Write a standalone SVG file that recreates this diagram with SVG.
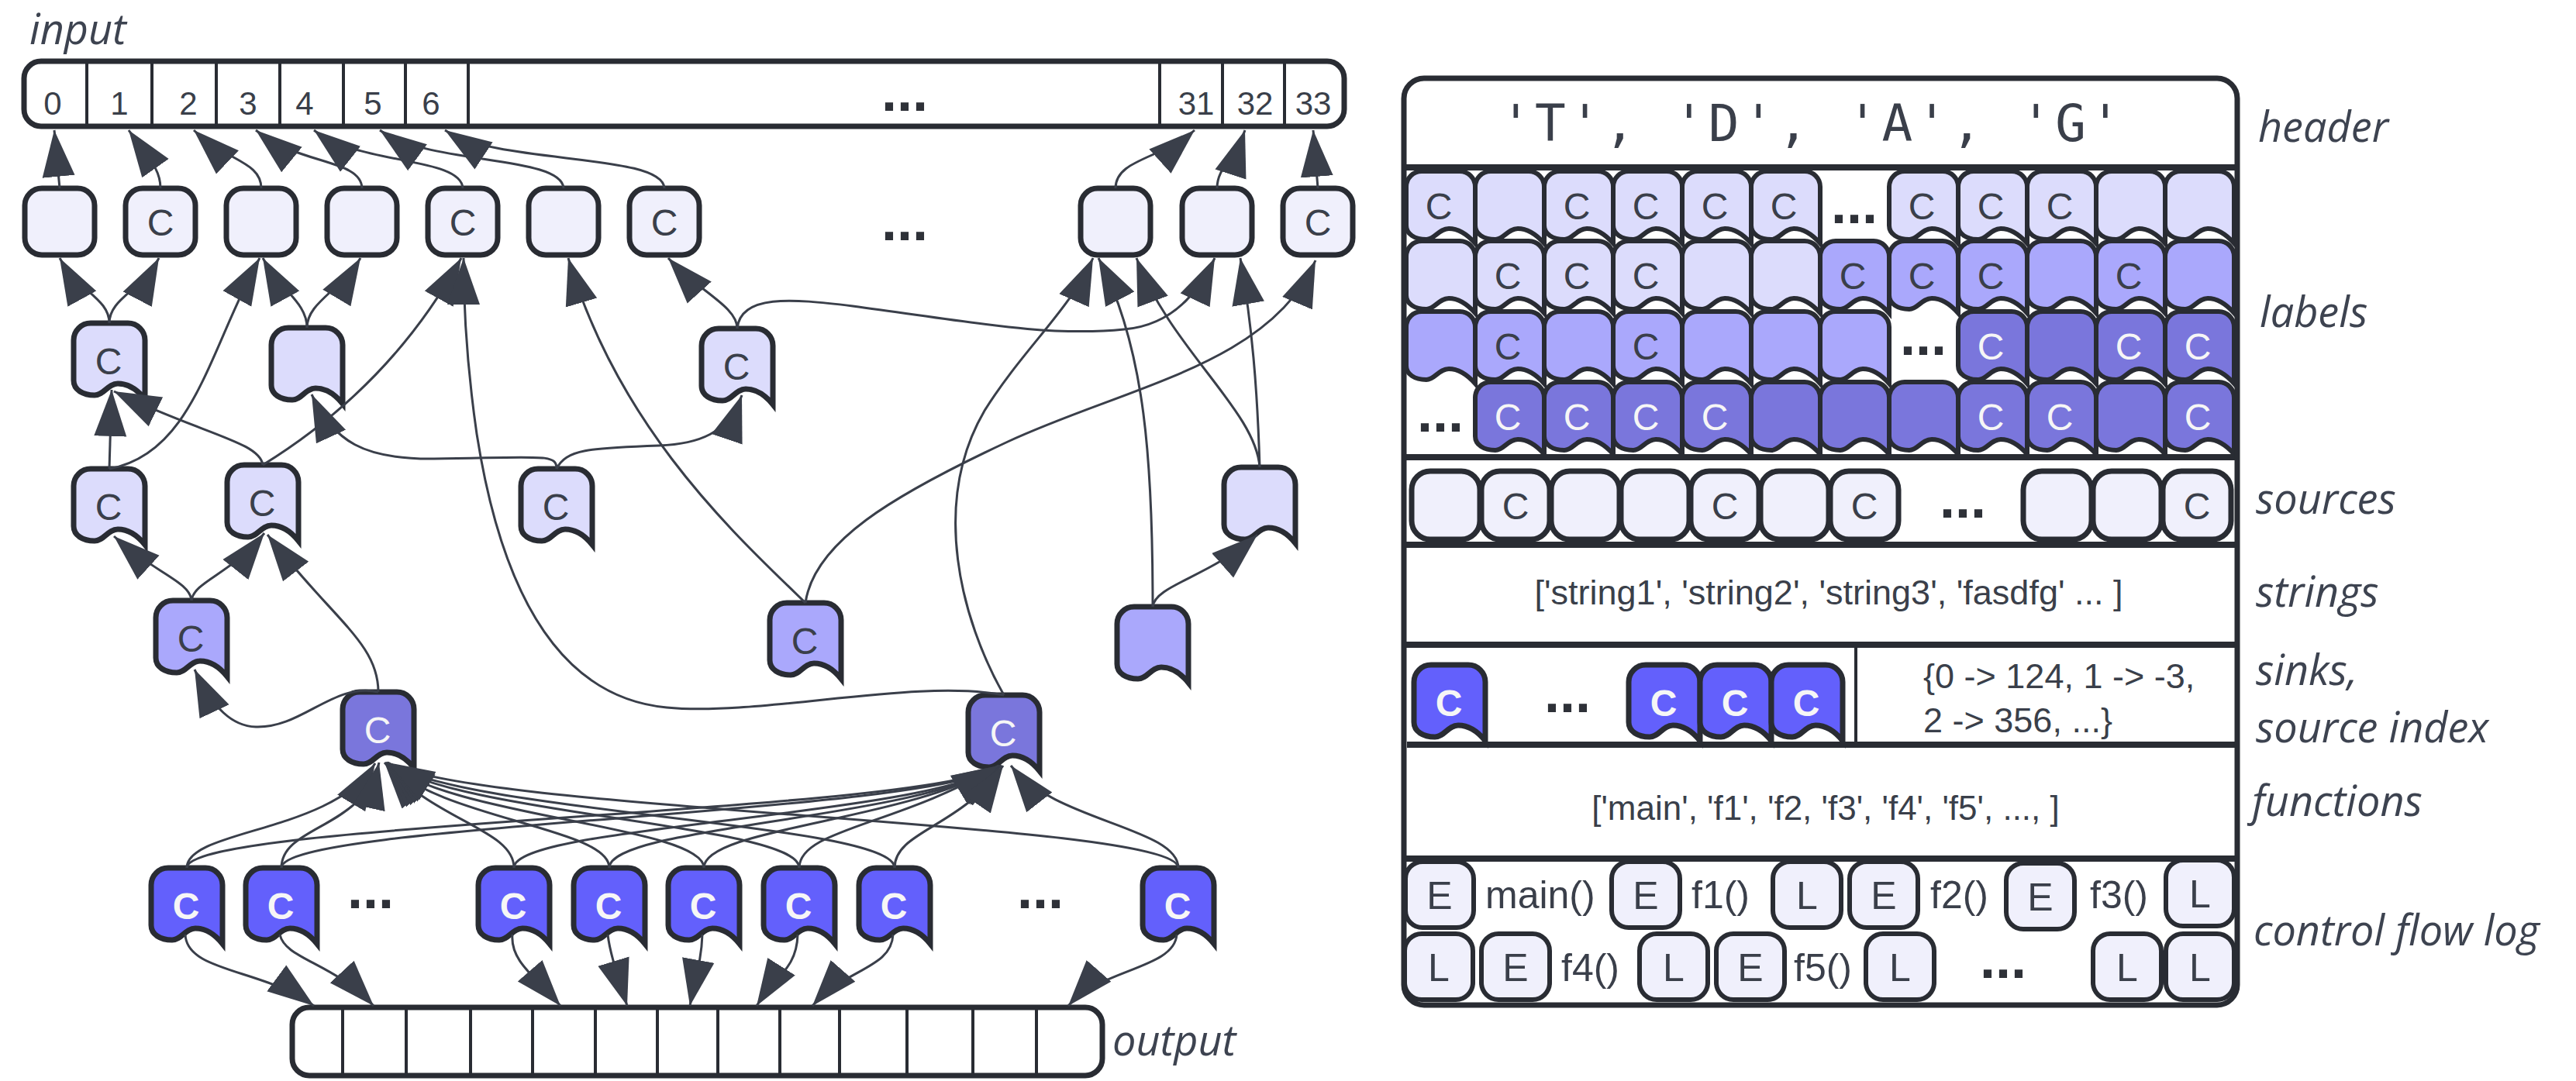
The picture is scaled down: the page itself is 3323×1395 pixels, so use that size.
<svg xmlns="http://www.w3.org/2000/svg" width="3323" height="1395" viewBox="0 0 3323 1395">
<style>
.n0{fill:#f0f0fc}.n1{fill:#dcdcfc}.n2{fill:#aaa8fc}.n3{fill:#7a76dc}.n4{fill:#6360fc}
.sk{stroke:#292c33;stroke-width:7}
.ck{stroke:#292c33;stroke-width:6}
.bar{fill:#fff;stroke:#292c33;stroke-width:7}
.div{stroke:#292c33;stroke-width:4;fill:none}
.sec{stroke:#292c33;stroke-width:8;fill:none}
.ln{fill:none;stroke:#3a3f4a;stroke-width:3;marker-end:url(#ah)}
.t{font-family:"Liberation Sans",Arial,sans-serif;fill:#3a3f4a}
.c{font-size:48px;text-anchor:middle}
.num{font-size:42px;text-anchor:middle}
.w{fill:#f6f6f6}
.b{font-weight:bold}
.dots{font-family:"Liberation Sans",Arial,sans-serif;font-weight:bold;font-size:72px;text-anchor:middle;fill:#2e3138}
.lab{font-family:"Open Sans","Noto Sans",sans-serif;font-style:italic;font-size:54px;fill:#3d4350}
.mono{font-family:"DejaVu Sans Mono","Liberation Mono",monospace;font-size:66px;fill:#3a3f4a;text-anchor:middle;letter-spacing:5px}
.txt{font-size:45px}
</style>
<defs>
<marker id="ah" markerUnits="userSpaceOnUse" markerWidth="60" markerHeight="44" viewBox="0 0 60 44" refX="60" refY="22" orient="auto">
<path d="M0,1 L60,22 L0,43 Z" fill="#3a3f4a"/>
</marker>
<path id="flag" d="M0,22 A22,22 0 0 1 22,0 H70 A22,22 0 0 1 92,22 V98 C84,88 72,78 57,78 C44,78 39,93 27,93 C12,93 0,86 0,74 Z"/>
<path id="cell" d="M0,20 A20,20 0 0 1 20,0 H69 A20,20 0 0 1 89,20 V93 C81,84 70,74 55,74 C42,74 37,88 26,88 C11,88 0,81 0,70 Z"/>
</defs>
<rect width="3323" height="1395" fill="#fff"/>

<!-- side labels -->
<text class="lab" x="38" y="57">input</text>
<text class="lab" x="1435" y="1362">output</text>

<!-- input array -->
<g id="input">
<rect class="bar" x="31" y="79" width="1703" height="84" rx="22"/>
<path class="div" d="M112,79V163M196,79V163M279,79V163M361,79V163M443,79V163M523,79V163M604,79V163M1496,79V163M1577,79V163M1657,79V163"/>
<g class="t num">
<text x="68" y="148">0</text><text x="154" y="148">1</text><text x="243" y="148">2</text><text x="320" y="148">3</text><text x="393" y="148">4</text><text x="481" y="148">5</text><text x="556" y="148">6</text>
<text x="1543" y="148">31</text><text x="1619" y="148">32</text><text x="1694" y="148">33</text>
</g>
<text class="dots" x="1167" y="143">...</text>
</g>

<!-- output array -->
<g id="output">
<rect class="bar" x="377" y="1300" width="1045" height="88" rx="22"/>
<path class="div" d="M442,1300V1388M524,1300V1388M607,1300V1388M687,1300V1388M768,1300V1388M848,1300V1388M926,1300V1388M1006,1300V1388M1083,1300V1388M1170,1300V1388M1255,1300V1388M1337,1300V1388"/>
</g>

<!-- top row of input nodes -->
<g id="t1"><rect class="n0 sk" x="32" y="243" width="90" height="86" rx="22"/></g>
<g id="t2"><rect class="n0 sk" x="162" y="243" width="90" height="86" rx="22"/><text class="t c" x="207" y="304">C</text></g>
<g id="t3"><rect class="n0 sk" x="292" y="243" width="90" height="86" rx="22"/></g>
<g id="t4"><rect class="n0 sk" x="422" y="243" width="90" height="86" rx="22"/></g>
<g id="t5"><rect class="n0 sk" x="552" y="243" width="90" height="86" rx="22"/><text class="t c" x="597" y="304">C</text></g>
<g id="t6"><rect class="n0 sk" x="682" y="243" width="90" height="86" rx="22"/></g>
<g id="t7"><rect class="n0 sk" x="812" y="243" width="90" height="86" rx="22"/><text class="t c" x="857" y="304">C</text></g>
<text class="dots" x="1167" y="310">...</text>
<g id="t8"><rect class="n0 sk" x="1394" y="243" width="90" height="86" rx="22"/></g>
<g id="t9"><rect class="n0 sk" x="1525" y="243" width="90" height="86" rx="22"/></g>
<g id="t10"><rect class="n0 sk" x="1655" y="243" width="90" height="86" rx="22"/><text class="t c" x="1700" y="304">C</text></g>

<!-- intermediate nodes -->
<g id="na"><use href="#flag" class="n1 sk" x="95" y="417"/><text class="t c" x="140" y="483">C</text></g>
<g id="nb"><use href="#flag" class="n1 sk" x="350" y="423"/></g>
<g id="nc"><use href="#flag" class="n1 sk" x="905" y="424"/><text class="t c" x="950" y="490">C</text></g>
<g id="nd"><use href="#flag" class="n1 sk" x="95" y="605"/><text class="t c" x="140" y="671">C</text></g>
<g id="ne"><use href="#flag" class="n1 sk" x="293" y="600"/><text class="t c" x="338" y="666">C</text></g>
<g id="nf"><use href="#flag" class="n1 sk" x="672" y="605"/><text class="t c" x="717" y="671">C</text></g>
<g id="ng"><use href="#flag" class="n1 sk" x="1579" y="603"/></g>
<g id="nh"><use href="#flag" class="n2 sk" x="201" y="775"/><text class="t c" x="246" y="841">C</text></g>
<g id="ni"><use href="#flag" class="n2 sk" x="993" y="778"/><text class="t c" x="1038" y="844">C</text></g>
<g id="nj"><use href="#flag" class="n2 sk" x="1441" y="783"/></g>
<g id="nk"><use href="#flag" class="n3 sk" x="442" y="893"/><text class="t c w" x="487" y="959">C</text></g>
<g id="nl"><use href="#flag" class="n3 sk" x="1249" y="897"/><text class="t c w" x="1294" y="963">C</text></g>

<!-- output-side nodes -->
<g id="o1"><use href="#flag" class="n4 sk" x="195" y="1120"/><text class="t c w b" x="240" y="1186">C</text></g>
<g id="o2"><use href="#flag" class="n4 sk" x="317" y="1120"/><text class="t c w b" x="362" y="1186">C</text></g>
<text class="dots" x="478" y="1172">...</text>
<g id="o3"><use href="#flag" class="n4 sk" x="617" y="1120"/><text class="t c w b" x="662" y="1186">C</text></g>
<g id="o4"><use href="#flag" class="n4 sk" x="740" y="1120"/><text class="t c w b" x="785" y="1186">C</text></g>
<g id="o5"><use href="#flag" class="n4 sk" x="862" y="1120"/><text class="t c w b" x="907" y="1186">C</text></g>
<g id="o6"><use href="#flag" class="n4 sk" x="985" y="1120"/><text class="t c w b" x="1030" y="1186">C</text></g>
<g id="o7"><use href="#flag" class="n4 sk" x="1108" y="1120"/><text class="t c w b" x="1153" y="1186">C</text></g>
<text class="dots" x="1342" y="1172">...</text>
<g id="o8"><use href="#flag" class="n4 sk" x="1474" y="1120"/><text class="t c w b" x="1519" y="1186">C</text></g>

<!-- connectors -->
<g id="connectors">
<path class="ln" d="M77,243 L70,168"/>
<path class="ln" d="M207,243 C207,218 192,205 166,168"/>
<path class="ln" d="M337,243 C337,208 292,208 250,168"/>
<path class="ln" d="M467,243 C466,205 385,213 330,168"/>
<path class="ln" d="M597,243 C595,202 462,213 405,168"/>
<path class="ln" d="M727,243 C725,200 552,213 490,168"/>
<path class="ln" d="M857,243 C855,197 642,213 574,168"/>
<path class="ln" d="M1439,243 C1439,205 1500,205 1541,168"/>
<path class="ln" d="M1570,243 C1570,215 1594,205 1606,168"/>
<path class="ln" d="M1700,243 L1694,168"/>

<path class="ln" d="M141,417 C141,385 100,375 77,333"/>
<path class="ln" d="M141,417 C141,385 183,375 205,333"/>
<path class="ln" d="M141,605 C250,585 270,450 335,333"/>
<path class="ln" d="M396,423 C396,390 362,375 339,333"/>
<path class="ln" d="M396,423 C396,390 440,375 465,333"/>
<path class="ln" d="M339,600 C420,550 520,470 595,333"/>
<path class="ln" d="M1295,897 C1180,875 980,925 860,913 C700,898 640,720 615,560 C602,470 598,400 598,333"/>
<path class="ln" d="M1039,778 C960,700 800,560 733,333"/>
<path class="ln" d="M951,424 C951,395 900,375 862,333"/>
<path class="ln" d="M1295,897 C1240,800 1200,650 1270,530 C1320,450 1380,400 1410,333"/>
<path class="ln" d="M1487,783 C1487,600 1478,450 1417,333"/>
<path class="ln" d="M1625,603 C1620,530 1510,450 1466,333"/>
<path class="ln" d="M951,424 C955,380 1020,385 1100,395 C1250,415 1350,435 1450,425 C1510,420 1545,380 1567,333"/>
<path class="ln" d="M1625,603 C1622,500 1615,420 1600,333"/>
<path class="ln" d="M1039,778 C1050,700 1150,640 1300,570 C1450,500 1640,470 1697,336"/>

<path class="ln" d="M141,605 L144,503"/>
<path class="ln" d="M339,600 C335,570 260,560 147,505"/>
<path class="ln" d="M718,605 C718,585 700,590 560,592 C470,593 430,570 402,509"/>
<path class="ln" d="M718,605 C730,580 760,578 850,575 C900,573 940,560 957,510"/>
<path class="ln" d="M1487,783 C1490,755 1560,745 1622,690"/>
<path class="ln" d="M247,775 C245,750 200,740 147,692"/>
<path class="ln" d="M247,775 C250,750 300,740 341,688"/>
<path class="ln" d="M488,893 C488,830 430,800 345,690"/>
<path class="ln" d="M488,893 C430,880 390,940 330,938 C300,937 275,915 251,864"/>

<path class="ln" d="M241,1120 C241,1070 430,1075 484,985"/>
<path class="ln" d="M363,1120 C363,1065 470,1070 489,984"/>
<path class="ln" d="M663,1120 C663,1070 560,1060 496,984"/>
<path class="ln" d="M786,1120 C786,1068 570,1058 497,984"/>
<path class="ln" d="M908,1120 C908,1066 580,1055 498,984"/>
<path class="ln" d="M1031,1120 C1031,1064 590,1052 499,984"/>
<path class="ln" d="M1154,1120 C1154,1062 600,1050 500,984"/>
<path class="ln" d="M1520,1120 C1520,1060 610,1048 500,984"/>

<path class="ln" d="M241,1120 C241,1060 1200,1050 1292,988"/>
<path class="ln" d="M363,1120 C363,1062 1200,1052 1292,988"/>
<path class="ln" d="M663,1120 C663,1065 1190,1055 1291,988"/>
<path class="ln" d="M786,1120 C786,1066 1180,1058 1290,988"/>
<path class="ln" d="M908,1120 C908,1068 1170,1060 1289,988"/>
<path class="ln" d="M1031,1120 C1031,1070 1160,1065 1288,988"/>
<path class="ln" d="M1154,1120 C1154,1072 1240,1068 1294,988"/>
<path class="ln" d="M1520,1120 C1520,1068 1360,1060 1304,988"/>

<path class="ln" d="M239,1206 C241,1255 340,1250 405,1298"/>
<path class="ln" d="M361,1206 C368,1238 430,1242 482,1298"/>
<path class="ln" d="M661,1206 C658,1240 690,1260 723,1298"/>
<path class="ln" d="M784,1206 C787,1232 798,1262 809,1298"/>
<path class="ln" d="M906,1206 C905,1240 896,1265 890,1298"/>
<path class="ln" d="M1029,1206 C1028,1250 1000,1260 976,1298"/>
<path class="ln" d="M1152,1206 C1150,1250 1090,1250 1048,1298"/>
<path class="ln" d="M1518,1206 C1515,1250 1420,1250 1378,1298"/>
</g>

<!-- file layout panel -->
<g id="layout">
<text class="mono" x="2338" y="182">'T', 'D', 'A', 'G'</text>

<g id="labels">
<!-- row 1 -->
<use href="#cell" class="n1 ck" x="1814" y="221"/><use href="#cell" class="n1 ck" x="1903" y="221"/><use href="#cell" class="n1 ck" x="1992" y="221"/><use href="#cell" class="n1 ck" x="2081" y="221"/><use href="#cell" class="n1 ck" x="2170" y="221"/><use href="#cell" class="n1 ck" x="2259" y="221"/>
<use href="#cell" class="n1 ck" x="2437" y="221"/><use href="#cell" class="n1 ck" x="2526" y="221"/><use href="#cell" class="n1 ck" x="2615" y="221"/><use href="#cell" class="n1 ck" x="2704" y="221"/><use href="#cell" class="n1 ck" x="2793" y="221"/>
<!-- row 2 -->
<use href="#cell" class="n1 ck" x="1814" y="311"/><use href="#cell" class="n1 ck" x="1903" y="311"/><use href="#cell" class="n1 ck" x="1992" y="311"/><use href="#cell" class="n1 ck" x="2081" y="311"/><use href="#cell" class="n1 ck" x="2170" y="311"/><use href="#cell" class="n1 ck" x="2259" y="311"/>
<use href="#cell" class="n2 ck" x="2348" y="311"/><use href="#cell" class="n2 ck" x="2437" y="311"/><use href="#cell" class="n2 ck" x="2526" y="311"/><use href="#cell" class="n2 ck" x="2615" y="311"/><use href="#cell" class="n2 ck" x="2704" y="311"/><use href="#cell" class="n2 ck" x="2793" y="311"/>
<!-- row 3 -->
<use href="#cell" class="n2 ck" x="1814" y="402"/><use href="#cell" class="n2 ck" x="1903" y="402"/><use href="#cell" class="n2 ck" x="1992" y="402"/><use href="#cell" class="n2 ck" x="2081" y="402"/><use href="#cell" class="n2 ck" x="2170" y="402"/><use href="#cell" class="n2 ck" x="2259" y="402"/><use href="#cell" class="n2 ck" x="2348" y="402"/>
<use href="#cell" class="n3 ck" x="2526" y="402"/><use href="#cell" class="n3 ck" x="2615" y="402"/><use href="#cell" class="n3 ck" x="2704" y="402"/><use href="#cell" class="n3 ck" x="2793" y="402"/>
<!-- row 4 -->
<use href="#cell" class="n3 ck" x="1903" y="493"/><use href="#cell" class="n3 ck" x="1992" y="493"/><use href="#cell" class="n3 ck" x="2081" y="493"/><use href="#cell" class="n3 ck" x="2170" y="493"/><use href="#cell" class="n3 ck" x="2259" y="493"/><use href="#cell" class="n3 ck" x="2348" y="493"/>
<use href="#cell" class="n3 ck" x="2437" y="493"/><use href="#cell" class="n3 ck" x="2526" y="493"/><use href="#cell" class="n3 ck" x="2615" y="493"/><use href="#cell" class="n3 ck" x="2704" y="493"/><use href="#cell" class="n3 ck" x="2793" y="493"/>
<g class="t c">
<text x="1856" y="283">C</text><text x="2034" y="283">C</text><text x="2123" y="283">C</text><text x="2212" y="283">C</text><text x="2301" y="283">C</text><text x="2479" y="283">C</text><text x="2568" y="283">C</text><text x="2657" y="283">C</text>
<text x="1945" y="373">C</text><text x="2034" y="373">C</text><text x="2123" y="373">C</text><text x="2390" y="373">C</text><text x="2479" y="373">C</text><text x="2568" y="373">C</text><text x="2746" y="373">C</text>
<text x="1945" y="464">C</text><text x="2123" y="464">C</text>
</g>
<g class="t c w">
<text x="2568" y="464">C</text><text x="2746" y="464">C</text><text x="2835" y="464">C</text>
<text x="1945" y="555">C</text><text x="2034" y="555">C</text><text x="2123" y="555">C</text><text x="2212" y="555">C</text><text x="2568" y="555">C</text><text x="2657" y="555">C</text><text x="2835" y="555">C</text>
</g>
<text class="dots" x="2392" y="288">...</text>
<text class="dots" x="2481" y="458">...</text>
<text class="dots" x="1858" y="557">...</text>
</g>

<g id="sources">
<rect class="n0 sk" x="1821" y="608" width="88" height="88" rx="24"/>
<rect class="n0 sk" x="1911" y="608" width="88" height="88" rx="24"/>
<rect class="n0 sk" x="2001" y="608" width="88" height="88" rx="24"/>
<rect class="n0 sk" x="2091" y="608" width="88" height="88" rx="24"/>
<rect class="n0 sk" x="2181" y="608" width="88" height="88" rx="24"/>
<rect class="n0 sk" x="2271" y="608" width="88" height="88" rx="24"/>
<rect class="n0 sk" x="2361" y="608" width="88" height="88" rx="24"/>
<rect class="n0 sk" x="2610" y="608" width="88" height="88" rx="24"/>
<rect class="n0 sk" x="2700" y="608" width="88" height="88" rx="24"/>
<rect class="n0 sk" x="2790" y="608" width="88" height="88" rx="24"/>
<g class="t c">
<text x="1955" y="670">C</text><text x="2225" y="670">C</text><text x="2405" y="670">C</text><text x="2834" y="670">C</text>
</g>
<text class="dots" x="2532" y="668">...</text>
</g>

<text class="t txt" x="2359" y="780" text-anchor="middle">['string1', 'string2', 'string3', 'fasdfg' ... ]</text>

<g id="sinks">
<use href="#flag" class="n4 sk" x="1824" y="858"/>
<use href="#flag" class="n4 sk" x="2101" y="858"/>
<use href="#flag" class="n4 sk" x="2193" y="858"/>
<use href="#flag" class="n4 sk" x="2285" y="858"/>
<g class="t c w b">
<text x="1869" y="924">C</text><text x="2146" y="924">C</text><text x="2238" y="924">C</text><text x="2330" y="924">C</text>
</g>
<text class="dots" x="2022" y="919">...</text>
<path class="div" d="M2394,832V961"/>
<text class="t txt" x="2481" y="888">{0 -&gt; 124, 1 -&gt; -3,</text>
<text class="t txt" x="2481" y="945">2 -&gt; 356, ...}</text>
</g>

<text class="t" x="2355" y="1058" font-size="44" text-anchor="middle">['main', 'f1', 'f2, 'f3', 'f4', 'f5', ..., ]</text>

<g id="cflog">
<rect class="n0 ck" x="1813" y="1112" width="88" height="85" rx="22"/>
<rect class="n0 ck" x="2079" y="1112" width="88" height="85" rx="22"/>
<rect class="n0 ck" x="2287" y="1112" width="88" height="85" rx="22"/>
<rect class="n0 ck" x="2386" y="1112" width="88" height="85" rx="22"/>
<rect class="n0 ck" x="2588" y="1114" width="88" height="85" rx="22"/>
<rect class="n0 ck" x="2794" y="1110" width="88" height="85" rx="22"/>
<rect class="n0 ck" x="1812" y="1205" width="88" height="85" rx="22"/>
<rect class="n0 ck" x="1911" y="1205" width="88" height="85" rx="22"/>
<rect class="n0 ck" x="2115" y="1205" width="88" height="85" rx="22"/>
<rect class="n0 ck" x="2214" y="1205" width="88" height="85" rx="22"/>
<rect class="n0 ck" x="2407" y="1205" width="88" height="85" rx="22"/>
<rect class="n0 ck" x="2700" y="1205" width="88" height="85" rx="22"/>
<rect class="n0 ck" x="2794" y="1205" width="88" height="85" rx="22"/>
<g class="t" font-size="50" text-anchor="middle">
<text x="1857" y="1173">E</text><text x="2123" y="1173">E</text><text x="2331" y="1173">L</text><text x="2430" y="1173">E</text><text x="2632" y="1175">E</text><text x="2838" y="1171">L</text>
<text x="1856" y="1266">L</text><text x="1955" y="1266">E</text><text x="2159" y="1266">L</text><text x="2258" y="1266">E</text><text x="2451" y="1266">L</text><text x="2744" y="1266">L</text><text x="2838" y="1266">L</text>
</g>
<g class="t" font-size="50">
<text x="1916" y="1172">main()</text><text x="2182" y="1172">f1()</text><text x="2490" y="1172">f2()</text><text x="2696" y="1172">f3()</text>
<text x="2014" y="1266">f4()</text><text x="2314" y="1266">f5()</text>
</g>
<text class="dots" x="2584" y="1262">...</text>
</g>

<path class="sec" d="M1811,216H2886M1811,590H2886M1811,703H2886M1811,832H2886M1815,961H2886M1811,1108H2886"/>
<rect x="1811" y="101" width="1075" height="1196" rx="26" fill="none" stroke="#292c33" stroke-width="7"/>
</g>

<!-- section captions -->
<text class="lab" x="2913" y="183">header</text>
<text class="lab" x="2915" y="422">labels</text>
<text class="lab" x="2910" y="663">sources</text>
<text class="lab" x="2910" y="783">strings</text>
<text class="lab" x="2910" y="884">sinks,</text>
<text class="lab" x="2910" y="958">source index</text>
<text class="lab" x="2905" y="1053">functions</text>
<text class="lab" x="2907" y="1220">control flow log</text>
</svg>
